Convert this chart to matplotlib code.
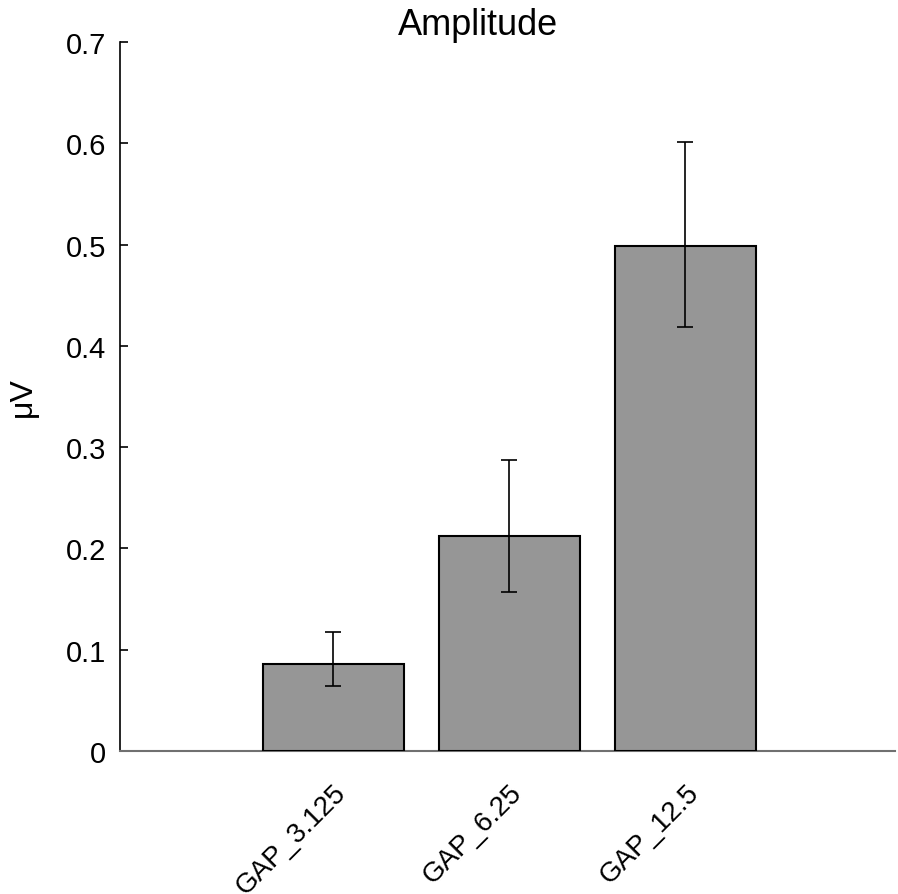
import matplotlib

matplotlib.use("Agg")
import matplotlib.pyplot as plt
import numpy as np

categories = ["GAP_3.125", "GAP_6.25", "GAP_12.5"]
amplitude = [0.086, 0.212, 0.499]
err_low = [0.064, 0.157, 0.419]
err_high = [0.117, 0.287, 0.601]
yticks = [0, 0.1, 0.2, 0.3, 0.4, 0.5, 0.6, 0.7]
ytick_labels = ["0", "0.1", "0.2", "0.3", "0.4", "0.5", "0.6", "0.7"]

plt.rcParams["font.family"] = ["Liberation Sans", "DejaVu Sans"]


def main():
    fig = plt.figure(figsize=(8.98, 8.95), dpi=100)
    ax = fig.add_axes([0.1336, 0.1598, 0.863, 0.7922])

    x = np.arange(len(categories))
    values = np.array(amplitude)
    yerr = [values - np.array(err_low), np.array(err_high) - values]

    ax.bar(x, values, width=0.8, color="#969696", edgecolor="black", linewidth=1.5, zorder=3)
    ax.errorbar(x, values, yerr=yerr, fmt="none", ecolor="black", elinewidth=1.2,
                capsize=5.5, capthick=1.2, zorder=4)

    ax.set_xlim(-1.21, 3.19)
    ax.set_ylim(0, 0.7)
    ax.set_yticks(yticks)
    ax.set_yticklabels(ytick_labels, fontsize=21)
    ax.set_xticks(x)
    ax.set_xticklabels(categories, fontsize=20, rotation=45, ha="right",
                       rotation_mode="anchor")
    ax.tick_params(axis="x", length=0, pad=20)
    ax.tick_params(axis="y", direction="in", length=6, width=1.2, pad=10)

    ax.spines["top"].set_visible(False)
    ax.spines["right"].set_visible(False)
    ax.spines["left"].set_linewidth(1.2)
    ax.spines["bottom"].set_color("#707070")
    ax.spines["bottom"].set_linewidth(1.5)

    ax.set_ylabel("μV", fontsize=23, labelpad=20)
    ax.set_title("Amplitude", fontsize=26, pad=6, x=0.462)

    fig.savefig("out.png", dpi=100)
    plt.close(fig)


if __name__ == "__main__":
    main()
